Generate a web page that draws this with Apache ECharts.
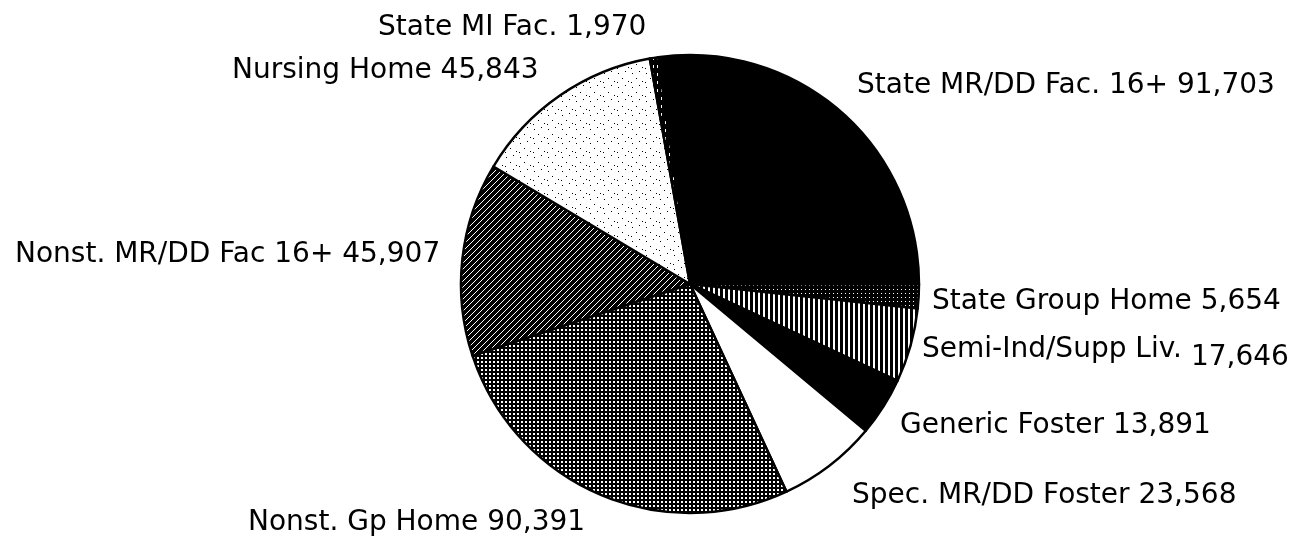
<!DOCTYPE html>
<html>
<head>
<meta charset="utf-8">
<script src="https://cdn.jsdelivr.net/npm/echarts@6/dist/echarts.min.js"></script>
<style>
  html, body { margin: 0; padding: 0; background: #fff; }
  #chart { width: 1311px; height: 540px; }
</style>
</head>
<body>
<div id="chart"></div>
<script>
// slices in clockwise order, starting just left of 12 o'clock
const categories = [
  "State MR/DD Fac. 16+",
  "State Group Home",
  "Semi-Ind/Supp Liv.",
  "Generic Foster",
  "Spec. MR/DD Foster",
  "Nonst. Gp Home",
  "Nonst. MR/DD Fac 16+",
  "Nursing Home",
  "State MI Fac."
];
const values = [91703, 5654, 17646, 13891, 23568, 90391, 45907, 45843, 1970];

// label anchor (left x, middle y) for each slice, same order
const labelPos = [
  [857, 86], [932, 302], [922, 350], [900, 426], [852, 496],
  [248, 523], [15, 255], [232, 71], [378, 28]
];

function tile(w, h, paint) {
  const c = document.createElement("canvas");
  c.width = w; c.height = h;
  const g = c.getContext("2d");
  paint(g);
  return { image: c, repeat: "repeat" };
}

const fills = [
  "#000",
  tile(4, 4, (g) => { g.fillStyle = "#000"; g.fillRect(0, 0, 4, 4); g.fillStyle = "#fff"; g.fillRect(1, 1, 1, 1); }),
  tile(5, 1, (g) => { g.fillStyle = "#000"; g.fillRect(0, 0, 5, 1); g.fillStyle = "#fff"; g.fillRect(3, 0, 2, 1); }),
  "#000",
  "#fff",
  tile(4, 4, (g) => { g.fillStyle = "#000"; g.fillRect(0, 0, 4, 4); g.fillStyle = "#fff"; g.fillRect(1, 1, 2, 2); }),
  tile(6, 6, (g) => {
    g.fillStyle = "#000"; g.fillRect(0, 0, 6, 6);
    g.fillStyle = "#fff";
    for (let i = 0; i < 6; i++) g.fillRect(i, 5 - i, 1, 1);
  }),
  tile(14, 14, (g) => {
    g.fillStyle = "#fff"; g.fillRect(0, 0, 14, 14);
    g.fillStyle = "#000";
    [[2, 3], [9, 1], [6, 8], [12, 11], [1, 12]].forEach(([x, y]) => g.fillRect(x, y, 1, 1));
  }),
  tile(4, 8, (g) => {
    g.fillStyle = "#000"; g.fillRect(0, 0, 4, 8);
    g.fillStyle = "#fff"; g.fillRect(1, 1, 1, 3);
  })
];

const chart = echarts.init(document.getElementById("chart"), null, { renderer: "canvas" });
chart.setOption({
  animation: false,
  backgroundColor: "#fff",
  series: [
    {
      type: "pie",
      center: [690, 284],
      radius: 229,
      startAngle: 98,
      clockwise: true,
      avoidLabelOverlap: false,
      itemStyle: { borderColor: "#000", borderWidth: 2.5 },
      label: {
        show: true,
        position: "outside",
        color: "#000",
        fontFamily: "DejaVu Sans",
        fontSize: 28,
        formatter: (p) => {
          const num = p.value.toLocaleString("en-US");
          // the Semi-Ind number sits a little lower in the original
          if (p.dataIndex === 2) return "{a|" + p.name + "} {b|" + num + "}";
          return p.name + " " + num;
        },
        rich: {
          a: { fontFamily: "DejaVu Sans", fontSize: 28, color: "#000" },
          b: { fontFamily: "DejaVu Sans", fontSize: 28, color: "#000", padding: [16, 0, 0, 0] }
        }
      },
      labelLine: { show: false },
      labelLayout: (p) => ({
        x: labelPos[p.dataIndex][0],
        y: labelPos[p.dataIndex][1],
        align: "left",
        verticalAlign: "middle"
      }),
      emphasis: { disabled: true },
      data: categories.map((name, i) => ({
        name,
        value: values[i],
        itemStyle: { color: fills[i] }
      }))
    }
  ]
});
</script>
</body>
</html>
